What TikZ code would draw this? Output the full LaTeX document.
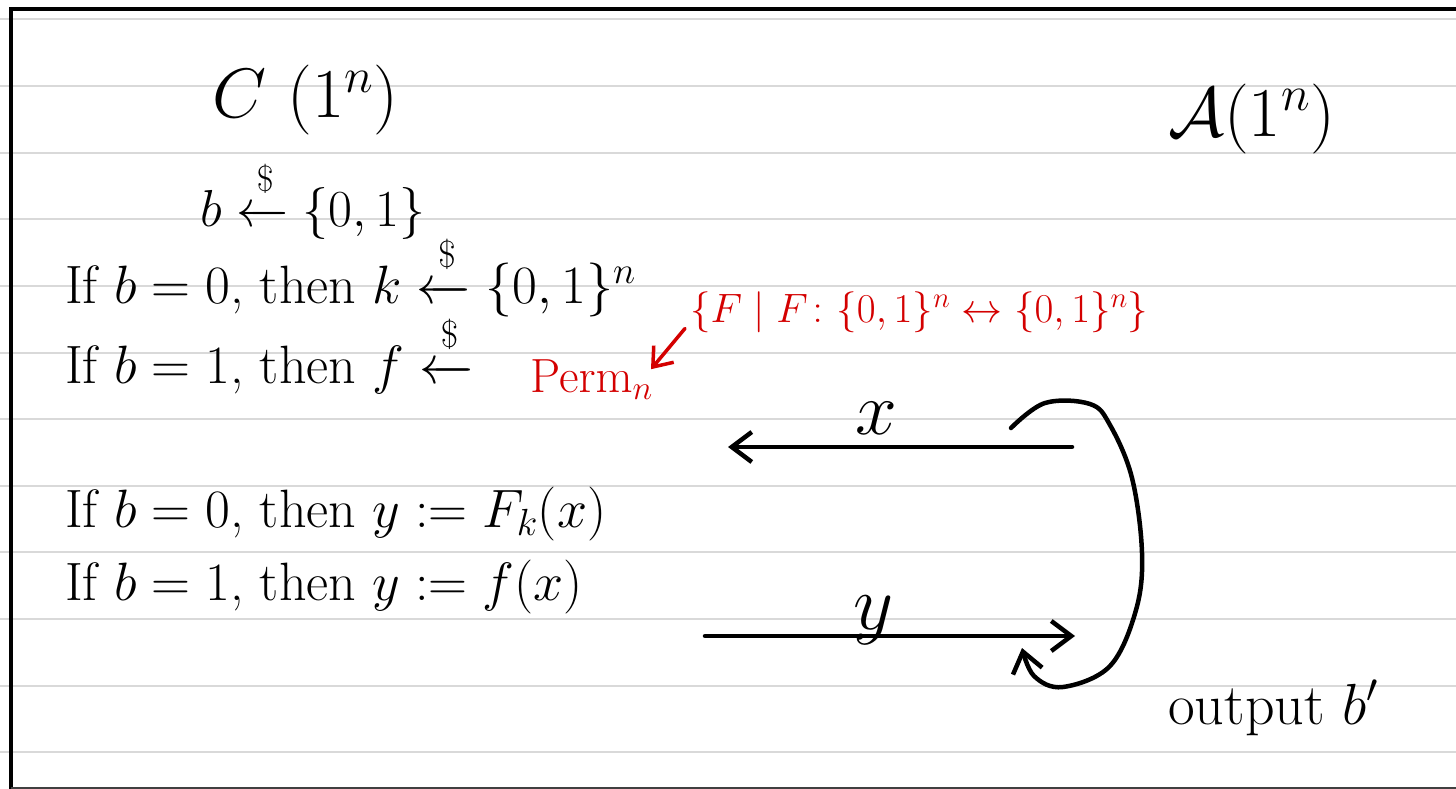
\documentclass[tikz,border=0pt]{standalone}
\usepackage{fix-cm}
\usepackage{amsmath,amssymb}
\usetikzlibrary{arrows.meta}
\definecolor{inkred}{HTML}{D40000}
\definecolor{rule}{HTML}{D9D9D9}
\newcommand{\rnd}{\xleftarrow{\raisebox{5pt}{$\scriptstyle\$$}}}
\tikzset{
  txt/.style={anchor=base west, inner sep=0pt, font=\fontsize{54}{60}\selectfont},
  redtxt/.style={anchor=base west, inner sep=0pt, text=inkred, font=\fontsize{41}{50}\selectfont},
  bigtxt/.style={anchor=base west, inner sep=0pt, font=\fontsize{70}{80}\selectfont},
  ink/.style={line width=4.5pt, line cap=round, line join=round},
  barb/.style={-{Straight Barb[length=20pt,width=30pt]}},
  ruled/.style={line width=2pt, rule},
}
\begin{document}
\begin{tikzpicture}[x=1pt,y=-1pt]
\useasboundingbox (0,0) rectangle (1456,789);
\fill[white] (0,0) rectangle (1456,789);
% ruled lines
\foreach \k in {0,...,11} {
  \draw[ruled] (0,{19.5+66.6*\k}) -- (1456,{19.5+66.6*\k});
}
% borders
\draw[line width=4pt] (11,789) -- (11,9) -- (1456,9);
\draw[line width=2pt, black!75] (11,788) -- (1456,788);
% titles
\node[bigtxt] (ctitle) at (212,118) {$C$ $(1^n)$};
\node[bigtxt] (atitle) at (1168,136) {$\mathcal{A}(1^n)$};
% challenger text
\node[txt, font=\fontsize{52}{60}\selectfont] (bline) at (200,226) {$b \rnd \{0,1\}$};
\node[txt] (l1) at (65,303) {If $b=0$, then $k \rnd \{0,1\}^n$};
\node[txt] (l2) at (65,383) {If $b=1$, then $f \rnd$};
\node[redtxt, font=\fontsize{48}{50}\selectfont] (perm) at (530,392) {$\mathrm{Perm}_n$};
\node[redtxt] (permset) at (690,322) {$\{F \mid F\colon \{0,1\}^n \leftrightarrow \{0,1\}^n\}$};
\node[txt] (l3) at (65,527) {If $b=0$, then $y := F_k(x)$};
\node[txt] (l4) at (65,600) {If $b=1$, then $y := f(x)$};
% red pointer
\draw[ink, inkred, line width=3.5pt, -{Straight Barb[length=17pt,width=26pt]}] ([xshift=-5pt,yshift=4pt]permset.south west) -- ([xshift=-2pt,yshift=10pt]perm.east);
% messages
\coordinate (xs) at (1072,447);
\coordinate (xe) at (728,447);
\coordinate (ys) at (705,636);
\coordinate (ye) at (1075,636);
\draw[ink, barb] (xs) -- (xe);
\node[inner sep=0pt, font=\fontsize{75}{80}\selectfont] (xlab) at (876,418) {$x$};
\draw[ink, barb] (ys) -- (ye);
\node[inner sep=0pt, font=\fontsize{78}{80}\selectfont] (ylab) at (874,620) {$y$};
% adversary loop
\coordinate (cs) at (1011,428);
\coordinate (ce) at (1022,648);
\draw[ink, barb] plot[smooth, tension=0.6] coordinates {(cs) (1045,403) (1090,404) (1110,425) (1132,478) (1142,553) (1136,610) (1110,666) (1063,687) (1034,676) (ce)};
% output
\node[txt, font=\fontsize{58}{60}\selectfont] (out) at (1168,724) {output $b'$};
\end{tikzpicture}
\end{document}
